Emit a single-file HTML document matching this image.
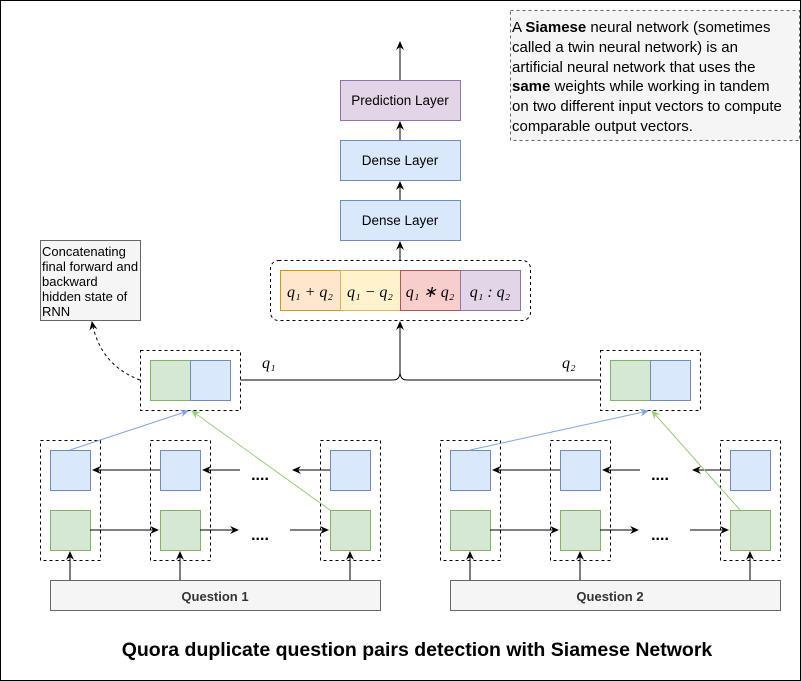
<!DOCTYPE html>
<html><head><style>
body{margin:0;background:#fff}
svg{display:block;font-family:"Liberation Sans",sans-serif}
.m{font-family:"Liberation Serif",serif;font-style:italic;font-size:16px}
</style></head><body>
<svg width="801" height="681" viewBox="0 0 801 681" xmlns="http://www.w3.org/2000/svg">
<defs>
<marker id="a" markerWidth="10" markerHeight="10" refX="8" refY="5" orient="auto" markerUnits="userSpaceOnUse"><path d="M0,1 L9,5 L0,9 L3,5z" fill="#000"/></marker>
<marker id="ab" markerWidth="10" markerHeight="10" refX="8" refY="5" orient="auto" markerUnits="userSpaceOnUse"><path d="M0,1 L9,5 L0,9 L3,5z" fill="#7ea6e0"/></marker>
<marker id="ag" markerWidth="10" markerHeight="10" refX="8" refY="5" orient="auto" markerUnits="userSpaceOnUse"><path d="M0,1 L9,5 L0,9 L3,5z" fill="#97d077"/></marker>
<g id="tree">
<rect x="40.5" y="440.5" width="60" height="120" fill="none" stroke="#000" stroke-dasharray="3,3"/>
<rect x="150.5" y="440.5" width="60" height="120" fill="none" stroke="#000" stroke-dasharray="3,3"/>
<rect x="320.5" y="440.5" width="60" height="120" fill="none" stroke="#000" stroke-dasharray="3,3"/>
<rect x="50.5" y="450.5" width="40" height="40" fill="#dae8fc" stroke="#6c8ebf"/>
<rect x="160.5" y="450.5" width="40" height="40" fill="#dae8fc" stroke="#6c8ebf"/>
<rect x="330.5" y="450.5" width="40" height="40" fill="#dae8fc" stroke="#6c8ebf"/>
<rect x="50.5" y="510.5" width="40" height="40" fill="#d5e8d4" stroke="#82b366"/>
<rect x="160.5" y="510.5" width="40" height="40" fill="#d5e8d4" stroke="#82b366"/>
<rect x="330.5" y="510.5" width="40" height="40" fill="#d5e8d4" stroke="#82b366"/>
<g stroke="#000">
<line x1="160" y1="470" x2="93" y2="470" marker-end="url(#a)"/>
<line x1="240" y1="470" x2="203" y2="470" marker-end="url(#a)"/>
<line x1="330" y1="470" x2="293" y2="470" marker-end="url(#a)"/>
<line x1="90" y1="530" x2="158" y2="530" marker-end="url(#a)"/>
<line x1="200" y1="530" x2="238" y2="530" marker-end="url(#a)"/>
<line x1="290" y1="530" x2="328" y2="530" marker-end="url(#a)"/>
<line x1="70" y1="580" x2="70" y2="552" marker-end="url(#a)"/>
<line x1="180" y1="580" x2="180" y2="552" marker-end="url(#a)"/>
<line x1="350" y1="580" x2="350" y2="552" marker-end="url(#a)"/>
</g>
<text x="260" y="480" font-size="16" font-weight="bold" text-anchor="middle">....</text>
<text x="260" y="540" font-size="16" font-weight="bold" text-anchor="middle">....</text>
<rect x="50.5" y="580.5" width="330" height="30" fill="#f5f5f5" stroke="#666"/>
</g>
</defs>
<rect x="0.5" y="0.5" width="800" height="680" fill="#fff" stroke="#000"/>
<rect x="510.5" y="10.5" width="289" height="130" fill="#f5f5f5" stroke="#666" stroke-dasharray="3,3"/>
<g font-size="15" fill="#000">
<text x="512" y="32">A <tspan font-weight="bold">Siamese</tspan> neural network (sometimes</text>
<text x="512" y="52">called a twin neural network) is an</text>
<text x="512" y="72">artificial neural network that uses the</text>
<text x="512" y="91"><tspan font-weight="bold">same</tspan> weights while working in tandem</text>
<text x="512" y="111">on two different input vectors to compute</text>
<text x="512" y="131">comparable output vectors.</text>
</g>
<line x1="400" y1="80" x2="400" y2="42" stroke="#000" marker-end="url(#a)"/>
<rect x="340.5" y="80.5" width="120" height="40" fill="#e1d5e7" stroke="#9673a6"/>
<text x="400" y="105" font-size="13.5" text-anchor="middle">Prediction Layer</text>
<line x1="400" y1="140" x2="400" y2="122" stroke="#000" marker-end="url(#a)"/>
<rect x="340.5" y="140.5" width="120" height="40" fill="#dae8fc" stroke="#6c8ebf"/>
<text x="400" y="165" font-size="13.5" text-anchor="middle">Dense Layer</text>
<line x1="400" y1="200" x2="400" y2="182" stroke="#000" marker-end="url(#a)"/>
<rect x="340.5" y="200.5" width="120" height="40" fill="#dae8fc" stroke="#6c8ebf"/>
<text x="400" y="225" font-size="13.5" text-anchor="middle">Dense Layer</text>
<line x1="400" y1="260" x2="400" y2="242" stroke="#000" marker-end="url(#a)"/>
<rect x="270.5" y="260.5" width="260" height="60" rx="8" fill="none" stroke="#000" stroke-dasharray="3,3"/>
<rect x="280.5" y="270.5" width="60" height="40" fill="#ffe6cc" stroke="#d79b00"/>
<rect x="340.5" y="270.5" width="60" height="40" fill="#fff2cc" stroke="#d6b656"/>
<rect x="400.5" y="270.5" width="60" height="40" fill="#f8cecc" stroke="#b85450"/>
<rect x="460.5" y="270.5" width="60" height="40" fill="#e1d5e7" stroke="#9673a6"/>
<g class="m" text-anchor="middle">
<text x="310" y="297">q₁ + q₂</text><text x="370" y="297">q₁ − q₂</text><text x="430" y="297">q₁ ∗ q₂</text><text x="490" y="297">q₁ : q₂</text>
</g>
<path d="M240,380 H393 Q400,380 400,372 Q400,380 407,380 H600" fill="none" stroke="#000"/>
<line x1="400" y1="372" x2="400" y2="322" stroke="#000" marker-end="url(#a)"/>
<text class="m" x="262" y="368">q₁</text>
<text class="m" x="562" y="368">q₂</text>
<rect x="40.5" y="240.5" width="100" height="80" fill="#f5f5f5" stroke="#666"/>
<g font-size="13"><text x="42" y="256">Concatenating</text><text x="42" y="271">final forward and</text><text x="42" y="286">backward</text><text x="42" y="301">hidden state of</text><text x="42" y="316">RNN</text></g>
<path d="M140,380 Q100,365 92,322" fill="none" stroke="#000" stroke-dasharray="3,3" marker-end="url(#a)"/>
<rect x="140.5" y="350.5" width="100" height="60" fill="#fff" stroke="#000" stroke-dasharray="3,3"/>
<rect x="150.5" y="360.5" width="40" height="40" fill="#d5e8d4" stroke="#82b366"/>
<rect x="190.5" y="360.5" width="40" height="40" fill="#dae8fc" stroke="#6c8ebf"/>
<rect x="600.5" y="350.5" width="100" height="60" fill="#fff" stroke="#000" stroke-dasharray="3,3"/>
<rect x="610.5" y="360.5" width="40" height="40" fill="#d5e8d4" stroke="#82b366"/>
<rect x="650.5" y="360.5" width="40" height="40" fill="#dae8fc" stroke="#6c8ebf"/>
<use href="#tree"/>
<use href="#tree" transform="translate(400,0)"/>
<line x1="70" y1="450" x2="188" y2="411" stroke="#7ea6e0" marker-end="url(#ab)"/>
<line x1="330" y1="510" x2="192" y2="411" stroke="#97d077" marker-end="url(#ag)"/>
<line x1="470" y1="450" x2="648" y2="411" stroke="#7ea6e0" marker-end="url(#ab)"/>
<line x1="740" y1="510" x2="652" y2="411" stroke="#97d077" marker-end="url(#ag)"/>
<text x="215" y="601" font-size="13" font-weight="bold" fill="#333" text-anchor="middle">Question 1</text>
<text x="610" y="601" font-size="13" font-weight="bold" fill="#333" text-anchor="middle">Question 2</text>
<text x="417" y="656" font-size="19.5" font-weight="bold" text-anchor="middle">Quora duplicate question pairs detection with Siamese Network</text>
</svg>
</body></html>
